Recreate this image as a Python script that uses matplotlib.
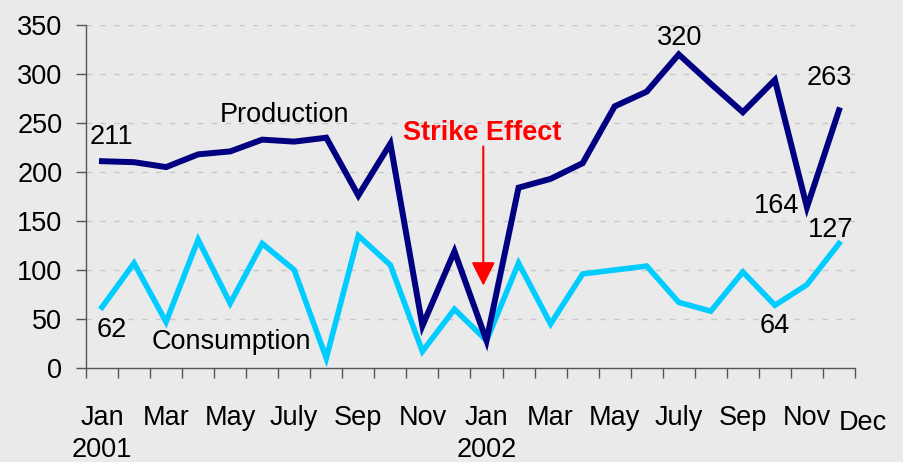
import matplotlib
matplotlib.use("Agg")
import matplotlib.pyplot as plt
import matplotlib.transforms as mtransforms

# monthly data Jan 2001 .. Dec 2002
months = ["Jan", "Feb", "Mar", "Apr", "May", "Jun", "July", "Aug", "Sep", "Oct", "Nov", "Dec"] * 2
production = [211, 210, 205, 218, 221, 233, 231, 235, 176, 229, 43, 119,
              28, 184, 193, 209, 267, 282, 320, 290, 261, 294, 164, 263]
consumption = [62, 107, 47, 131, 66, 127, 100, 10, 135, 105, 17, 60,
               28, 107, 45, 96, 100, 104, 67, 58, 98, 64, 85, 127]
years = ["2001", "2002"]

plt.rcParams['font.family'] = ['Liberation Sans', 'DejaVu Sans']

bg = "#EAEAEA"
fs = 19.5
fig = plt.figure(figsize=(9.04, 4.62), dpi=100, facecolor=bg)
ax = fig.add_axes([0.0951, 0.2035, 0.8507, 0.7424], facecolor=bg)

x = list(range(len(production)))
ax.plot(x, production, color="#000080", lw=4.3, solid_joinstyle="miter", zorder=3)
ax.plot(x, consumption, color="#00CCFF", lw=4.0, solid_joinstyle="miter", zorder=2)

ax.set_xlim(-0.5, 23.5)
ax.set_ylim(0, 350)

# y axis
ax.set_yticks(range(0, 351, 50))
ax.tick_params(axis="y", length=7, width=1, color="#555555", labelsize=fs, pad=10)
for y in range(50, 351, 50):
    ax.axhline(y, color="#C8C8C8", lw=1, ls=(0, (4, 6)), zorder=1)

# x axis: minor ticks at month boundaries, labels every second month
ax.set_xticks([i - 0.5 for i in range(25)], minor=True)
ax.set_xticks(x[0:23:2])
ax.set_xticklabels(months[0:23:2])
ax.tick_params(axis="x", which="major", length=0, labelsize=fs, pad=27)
ax.tick_params(axis="x", which="minor", length=7, width=1, color="#555555")

trans = mtransforms.blended_transform_factory(ax.transData, ax.transAxes)
ax.text(23.75, -0.16, "Dec", transform=trans, ha="center", va="center", fontsize=fs)
ax.text(0, -0.239, years[0], transform=trans, ha="center", va="center", fontsize=fs)
ax.text(12, -0.239, years[1], transform=trans, ha="center", va="center", fontsize=fs)

for s in ["top", "right"]:
    ax.spines[s].set_visible(False)
for s in ["left", "bottom"]:
    ax.spines[s].set_color("#555555")
    ax.spines[s].set_linewidth(1)

# labels
ax.text(0.31, 236, str(production[0]), ha="center", va="center", fontsize=fs)
ax.text(0.31, 39, str(consumption[0]), ha="center", va="center", fontsize=fs)
ax.text(5.69, 258, "Production", ha="center", va="center", fontsize=fs)
ax.text(4.05, 27, "Consumption", ha="center", va="center", fontsize=fs)
ax.text(18.03, 337, str(production[18]), ha="center", va="center", fontsize=fs)
ax.text(22.7, 296, str(production[23]), ha="center", va="center", fontsize=fs)
ax.text(21.05, 165, str(production[22]), ha="center", va="center", fontsize=fs)
ax.text(22.74, 141, str(consumption[23]), ha="center", va="center", fontsize=fs)
ax.text(21.0, 43, str(consumption[21]), ha="center", va="center", fontsize=fs)

# strike annotation
ax.text(11.85, 240, "Strike Effect", ha="center", va="center", fontsize=fs,
        fontweight="bold", color="#FF0000")
ax.annotate("", xy=(11.9, 84), xytext=(11.9, 226),
            arrowprops=dict(arrowstyle="-|>,head_length=1.0,head_width=0.5",
                            mutation_scale=14.5, color="#FF0000", lw=1.5,
                            shrinkA=0, shrinkB=0))

fig.savefig("out.png", dpi=100, facecolor=bg)
